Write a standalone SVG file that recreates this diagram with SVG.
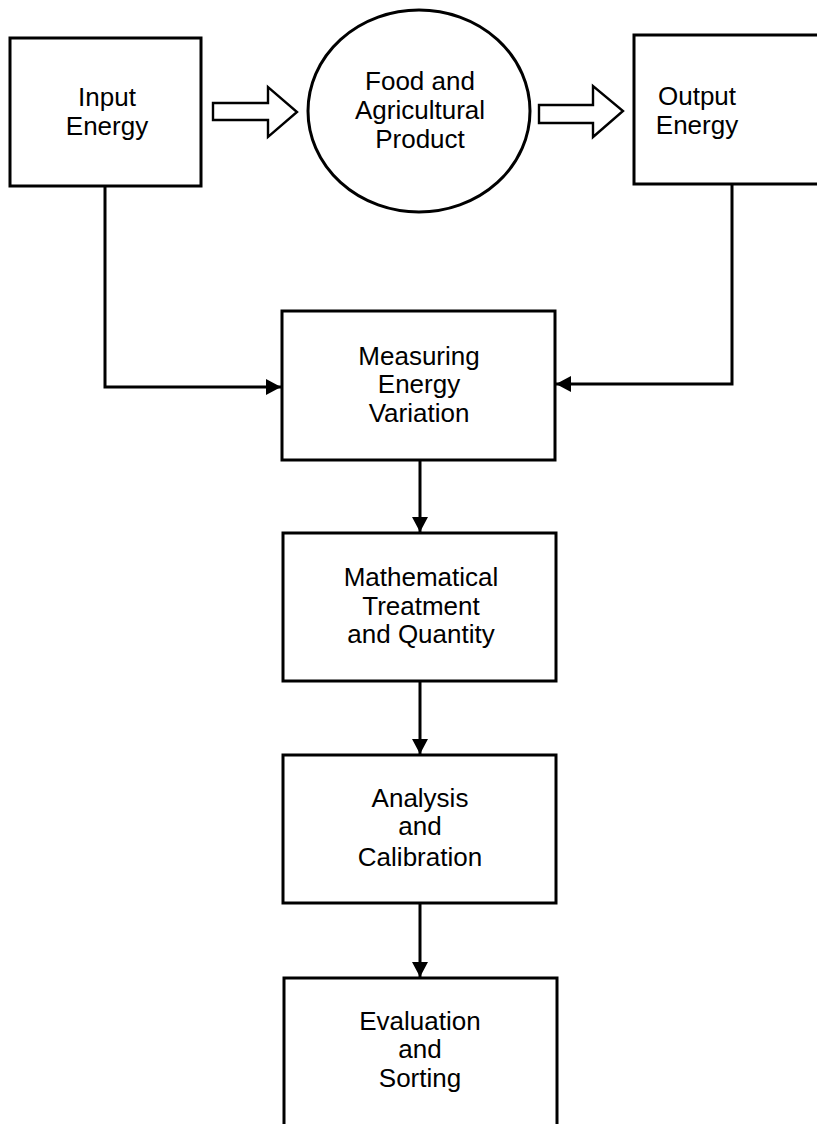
<svg xmlns="http://www.w3.org/2000/svg" width="817" height="1124" viewBox="0 0 817 1124">
<style>
.box{fill:#fff;stroke:#000;stroke-width:3}
.hol{fill:#fff;stroke:#000;stroke-width:2.4;stroke-linejoin:miter}
.con{fill:none;stroke:#000;stroke-width:3}
text{font-family:"Liberation Sans",Arial,sans-serif;font-size:26px;fill:#000;text-anchor:middle}
</style>
<defs>
<marker id="ah" markerUnits="userSpaceOnUse" markerWidth="16" markerHeight="16" refX="15" refY="8" orient="auto">
<path d="M0,0 L15,8 L0,16 Z" fill="#000"/>
</marker>
</defs>
<rect width="817" height="1124" fill="#fff"/>
<g id="connectors">
<path class="con" d="M105,186 V387 H281" marker-end="url(#ah)"/>
<path class="con" d="M732,184 V384 H556" marker-end="url(#ah)"/>
<path class="con" d="M420,460 V532" marker-end="url(#ah)"/>
<path class="con" d="M420,681 V754" marker-end="url(#ah)"/>
<path class="con" d="M420,903 V977" marker-end="url(#ah)"/>
<polygon class="hol" points="213,103 268,103 268,87 297,112 268,137 268,120 213,120"/>
<polygon class="hol" points="539,105 593,105 593,86 623,111 593,137 593,123 539,123"/>
</g>
<g id="input-energy">
<rect class="box" x="10" y="38" width="191" height="148"/>
<text x="107" y="106">Input</text>
<text x="107" y="135">Energy</text>
</g>
<g id="food-product">
<ellipse class="box" cx="419" cy="111" rx="111" ry="101"/>
<text x="420" y="90">Food and</text>
<text x="420" y="119">Agricultural</text>
<text x="420" y="148">Product</text>
</g>
<g id="output-energy">
<rect class="box" x="634" y="35" width="200" height="149"/>
<text x="697" y="105">Output</text>
<text x="697" y="134">Energy</text>
</g>
<g id="measuring">
<rect class="box" x="282" y="311" width="273" height="149"/>
<text x="419" y="365">Measuring</text>
<text x="419" y="393">Energy</text>
<text x="419" y="422">Variation</text>
</g>
<g id="mathematical">
<rect class="box" x="283" y="533" width="273" height="148"/>
<text x="421" y="586">Mathematical</text>
<text x="421" y="615">Treatment</text>
<text x="421" y="643">and Quantity</text>
</g>
<g id="analysis">
<rect class="box" x="283" y="755" width="273" height="148"/>
<text x="420" y="807">Analysis</text>
<text x="420" y="835">and</text>
<text x="420" y="866">Calibration</text>
</g>
<g id="evaluation">
<rect class="box" x="284" y="978" width="273" height="160"/>
<text x="420" y="1030">Evaluation</text>
<text x="420" y="1058">and</text>
<text x="420" y="1087">Sorting</text>
</g>
</svg>
